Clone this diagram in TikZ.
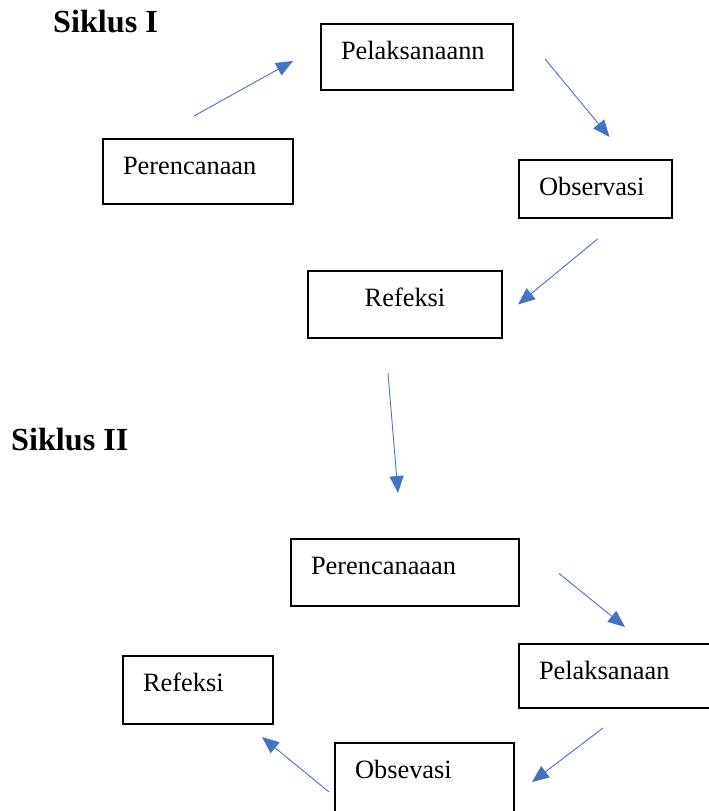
\documentclass[tikz,border=0pt]{standalone}
\usepackage{fontspec}
\setmainfont{Liberation Serif}
\usepackage{tikz}
\usetikzlibrary{positioning,arrows.meta}
\definecolor{arrowblue}{HTML}{4472C4}

\begin{document}
\begin{tikzpicture}[x=1pt, y=-1pt, >={Triangle[length=17pt,width=14pt]}]
\tikzstyle{block} = [draw, line width=1.1pt, outer sep=0pt, inner xsep=20pt, inner ysep=0pt, text height=35pt, align=left, font=\fontsize{26.4pt}{30pt}\selectfont]
\tikzstyle{title} = [anchor=base west, inner sep=0pt, font=\fontsize{32.2pt}{36pt}\selectfont\bfseries]
\tikzstyle{line} = [draw, ->, line width=0.9pt, arrowblue]

\useasboundingbox (0,0) rectangle (709,811);

\node [title] (T1) at (53,32) {Siklus I};
\node [title] (T2) at (11,450) {Siklus II};

\node [block, anchor=north west, text width=150pt, text depth=30pt] (plan1) at (103,139) {Perencanaan};
\node [block, above right=49pt and 28pt of plan1, text width=152pt, text depth=31pt] (act1) {Pelaksanaann};
\node [block, below right=70pt and 6pt of act1, text width=113pt, text depth=23pt] (obs1) {Observasi};
\node [block, below left=53pt and 17pt of obs1, text width=154pt, text depth=32pt, align=center] (ref1) {Refeksi};

\node [block, below=201pt of ref1, text width=188pt, text depth=32pt] (plan2) {Perencanaaan};
\node [block, below right=38pt and 0pt of plan2, text width=180pt, text depth=29pt] (act2) {Pelaksanaan};
\node [block, below left=35pt and 5pt of act2, text width=139pt, text depth=35pt] (obs2) {Obsevasi};
\node [block, above left=19pt and 62pt of obs2, text width=110pt, text depth=33pt] (ref2) {Refeksi};

\path [line] ([xshift=-4pt,yshift=23pt]plan1.north) -- ([xshift=-28pt,yshift=-4pt]act1.west);
\path [line] ([xshift=32pt,yshift=-2pt]act1.east) -- ([xshift=14pt,yshift=23pt]obs1.north);
\path [line] ([xshift=2pt,yshift=-21pt]obs1.south) -- ([xshift=16pt]ref1.east);
\path [line] ([xshift=-17pt,yshift=-35pt]ref1.south) -- ([xshift=-7pt,yshift=46pt]plan2.north);
\path [line] ([xshift=40pt,yshift=-1pt]plan2.east) -- ([xshift=-4pt,yshift=17pt]act2.north);
\path [line] ([xshift=-26pt,yshift=-20pt]act2.south) -- ([xshift=18pt,yshift=-4pt]obs2.east);
\path [line] ([xshift=-6pt,yshift=-14pt]obs2.west) -- ([xshift=-11pt,yshift=-13pt]ref2.south east);
\end{tikzpicture}
\end{document}
